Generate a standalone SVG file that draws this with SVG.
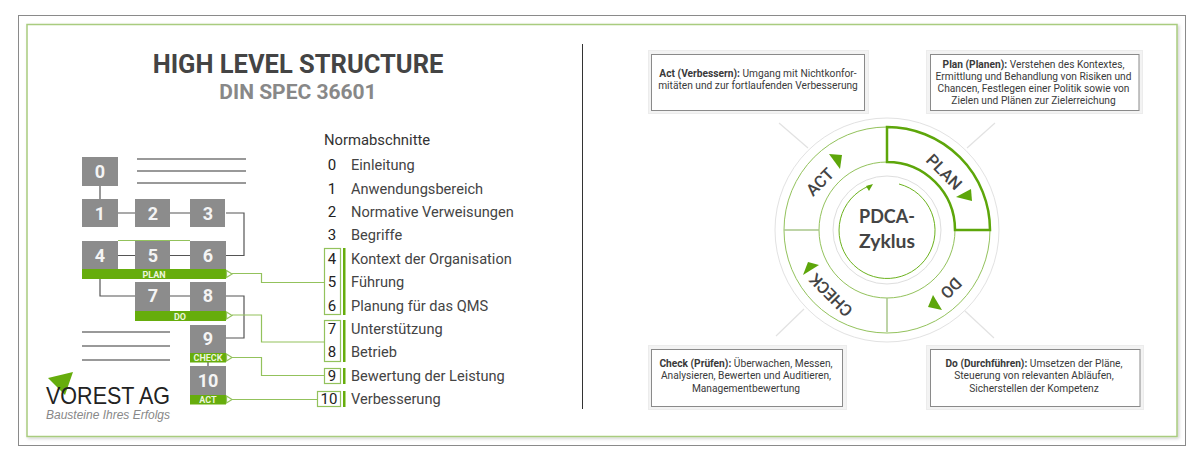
<svg xmlns="http://www.w3.org/2000/svg" width="1200" height="460" viewBox="0 0 1200 460">
<defs>
<filter id="sh" x="-2%" y="-2%" width="104%" height="104%"><feDropShadow dx="1.500" dy="1.500" stdDeviation="1.500" flood-color="#000" flood-opacity=".18"/></filter>
<style>
text{font-family:Roboto,"Liberation Sans",sans-serif}
.b{fill:#8c8c8c}
.n{fill:#f4f4f4;font-weight:700;font-size:18px;text-anchor:middle}
.bar{fill:#66ad0c}
.bl{fill:#ecf5dc;font-weight:700;font-size:9px;text-anchor:middle}
.rule{stroke:#999;stroke-width:2;fill:none}
.con{stroke:#555;stroke-width:1.2;fill:none}
.gc{stroke:#93c25c;stroke-width:1.2;fill:none}
.tri{fill:#fff;stroke:#93c25c;stroke-width:1.2}
.nb{fill:#fff;stroke:#93c25c;stroke-width:1.2}
.num{fill:#222;font-size:15px;text-anchor:middle}
.lab{fill:#444;font-size:14.600px}
.gb{fill:#66ad0c}
.card{fill:#fff;stroke:#8a8a8a;stroke-width:1}
.halo{fill:#f3f3f3;stroke:#ececec;stroke-width:1}
.ct{fill:#3a3a3a;font-size:10.200px;text-anchor:middle}
.ct tspan.h{font-weight:700}
.ray{stroke:#e2e2e2;stroke-width:1.200}
.cy{fill:#444;font-size:16.500px;font-weight:500;text-anchor:middle}
.cc{fill:#444;font-size:19.500px;font-weight:700;text-anchor:middle;font-family:Lato,"Liberation Sans",sans-serif}
.arw{fill:#5da60a}
.logo{font-family:"Liberation Sans",sans-serif}
</style>
</defs>
<rect width="1200" height="460" fill="#fff"/>
<rect x="18.500" y="15.500" width="1167" height="430" fill="#fff" stroke="#8a8a8a"/>
<rect x="27" y="24.500" width="1150" height="412" fill="#fff" stroke="#a9cc7f" stroke-width="1.500" filter="url(#sh)"/>
<line x1="582.500" y1="44" x2="582.500" y2="409" stroke="#333"/>

<g id="title">
<text x="298" y="73" text-anchor="middle" font-size="25.500" font-weight="700" fill="#444">HIGH LEVEL STRUCTURE</text>
<text x="298" y="99" text-anchor="middle" font-size="21" font-weight="700" fill="#888">DIN SPEC 36601</text>
</g>

<g id="connectors">
<path class="con" d="M100 186V199M118 213H135M170 213H190M226 213H244V255.500H226M118 255.500H135M170 255.500H190M100 279V296H135M170 296H190M226 296H244V338H226M208 362V366"/>
<path class="gc" d="M232 273.500H261.500V282.500H325M232 315H261.500V342H325M232 357.500H261.500V375.500H325M232 399.500H318"/>
</g>

<g id="rules">
<path class="rule" d="M137 159H246M137 171H246M137 183H246M82 332H170M82 346H170M82 360H170"/>
</g>

<g id="n0"><rect class="b" x="82" y="157" width="36" height="29"/><text class="n" x="100" y="178">0</text></g>
<g id="n1"><rect class="b" x="82" y="199" width="36" height="28"/><text class="n" x="100" y="220">1</text></g>
<g id="n2"><rect class="b" x="135" y="199" width="35" height="28"/><text class="n" x="153" y="220">2</text></g>
<g id="n3"><rect class="b" x="190" y="199" width="35" height="28"/><text class="n" x="208" y="220">3</text></g>
<g id="n4"><rect class="b" x="82" y="241" width="36" height="29"/><text class="n" x="100" y="262">4</text></g>
<g id="n5"><rect class="b" x="135" y="241" width="35" height="29"/><text class="n" x="153" y="262">5</text></g>
<g id="n6"><rect class="b" x="190" y="241" width="36" height="29"/><text class="n" x="208" y="262">6</text></g>
<path d="M118 240.500H190" stroke="#93c25c" fill="none"/>
<g id="plan"><rect class="bar" x="82" y="269" width="144" height="10"/><text class="bl" x="154" y="277.500">PLAN</text><path class="tri" d="M226.500 270.500L232 274L226.500 277.500Z"/></g>
<g id="n7"><rect class="b" x="135" y="282" width="35" height="29"/><text class="n" x="153" y="302">7</text></g>
<g id="n8"><rect class="b" x="190" y="282" width="36" height="29"/><text class="n" x="208" y="302">8</text></g>
<g id="do"><rect class="bar" x="135" y="311" width="91" height="10"/><text class="bl" x="180" y="319.500">DO</text><path class="tri" d="M226.500 312L232 315.500L226.500 319Z"/></g>
<g id="n9"><rect class="b" x="190" y="325" width="36" height="28"/><text class="n" x="208" y="345">9</text></g>
<g id="check"><rect class="bar" x="190" y="353" width="36" height="9.500"/><text class="bl" x="208" y="361">CHECK</text><path class="tri" d="M226.500 354L232 357.500L226.500 361Z"/></g>
<g id="n10"><rect class="b" x="190" y="366" width="36" height="29"/><text class="n" x="208" y="387">10</text></g>
<g id="act"><rect class="bar" x="190" y="395" width="36" height="9.500"/><text class="bl" x="208" y="403">ACT</text><path class="tri" d="M226.500 396L232 399.500L226.500 403Z"/></g>

<g id="logo">
<path d="M48 378L73 372L65 395Z" fill="#66ad0c"/>
<text class="logo" x="46" y="404" font-size="24" fill="#222" textLength="124" lengthAdjust="spacingAndGlyphs">VOREST AG</text>
<text class="logo" x="46" y="419" font-size="12.500" font-style="italic" fill="#888" textLength="124" lengthAdjust="spacingAndGlyphs">Bausteine Ihres Erfolgs</text>
</g>

<g id="normen">
<text x="324" y="145" font-size="14.800" fill="#333">Normabschnitte</text>
<rect class="nb" x="324.500" y="248.500" width="16" height="66"/>
<rect class="nb" x="324.500" y="320.500" width="16" height="41"/>
<rect class="nb" x="324.500" y="368.500" width="16" height="15"/>
<rect class="nb" x="317.500" y="391.500" width="23" height="15"/>
<rect class="gb" x="343" y="248" width="2.500" height="67"/>
<rect class="gb" x="343" y="320" width="2.500" height="42"/>
<rect class="gb" x="343" y="368" width="2.500" height="16"/>
<rect class="gb" x="343" y="391" width="2.500" height="16"/>
<g id="s0"><text class="num" x="332" y="170">0</text><text class="lab" x="351" y="170">Einleitung</text></g>
<g id="s1"><text class="num" x="332" y="194">1</text><text class="lab" x="351" y="194">Anwendungsbereich</text></g>
<g id="s2"><text class="num" x="332" y="217">2</text><text class="lab" x="351" y="217">Normative Verweisungen</text></g>
<g id="s3"><text class="num" x="332" y="240">3</text><text class="lab" x="351" y="240">Begriffe</text></g>
<g id="s4"><text class="num" x="332" y="264">4</text><text class="lab" x="351" y="264">Kontext der Organisation</text></g>
<g id="s5"><text class="num" x="332" y="287">5</text><text class="lab" x="351" y="287">Führung</text></g>
<g id="s6"><text class="num" x="332" y="311">6</text><text class="lab" x="351" y="311">Planung für das QMS</text></g>
<g id="s7"><text class="num" x="332" y="334">7</text><text class="lab" x="351" y="334">Unterstützung</text></g>
<g id="s8"><text class="num" x="332" y="357">8</text><text class="lab" x="351" y="357">Betrieb</text></g>
<g id="s9"><text class="num" x="332" y="381">9</text><text class="lab" x="351" y="381">Bewertung der Leistung</text></g>
<g id="s10"><text class="num" x="329" y="404">10</text><text class="lab" x="351" y="404">Verbesserung</text></g>
</g>

<g id="card-act">
<rect class="halo" x="648.500" y="50.500" width="220" height="63"/><rect class="card" x="651.500" y="54.500" width="213" height="56"/>
<text class="ct" x="758" y="77"><tspan class="h">Act (Verbessern):</tspan> Umgang mit Nichtkonfor-</text>
<text class="ct" x="758" y="89">mitäten und zur fortlaufenden Verbesserung</text>
</g>
<g id="card-plan">
<rect class="halo" x="926.500" y="50.500" width="216" height="63"/><rect class="card" x="930.500" y="54.500" width="208.500" height="56"/>
<text class="ct" x="1033.500" y="68"><tspan class="h">Plan (Planen):</tspan> Verstehen des Kontextes,</text>
<text class="ct" x="1033.500" y="80">Ermittlung und Behandlung von Risiken und</text>
<text class="ct" x="1033.500" y="92">Chancen, Festlegen einer Politik sowie von</text>
<text class="ct" x="1033.500" y="104">Zielen und Plänen zur Zielerreichung</text>
</g>
<g id="card-check">
<rect class="halo" x="648.500" y="345.500" width="198" height="64"/><rect class="card" x="651.500" y="349.500" width="191" height="57"/>
<text class="ct" x="746" y="367"><tspan class="h">Check (Prüfen):</tspan> Überwachen, Messen,</text>
<text class="ct" x="746" y="379">Analysieren, Bewerten und Auditieren,</text>
<text class="ct" x="746" y="392">Managementbewertung</text>
</g>
<g id="card-do">
<rect class="halo" x="926.500" y="345.500" width="217" height="64"/><rect class="card" x="930.500" y="349.500" width="209.500" height="57"/>
<text class="ct" x="1034" y="367"><tspan class="h">Do (Durchführen):</tspan> Umsetzen der Pläne,</text>
<text class="ct" x="1034" y="379">Steuerung von relevanten Abläufen,</text>
<text class="ct" x="1034" y="392">Sicherstellen der Kompetenz</text>
</g>

<g id="cycle">
<path class="ray" d="M779 123L808 148M995 123L967 148M776 336L804 309M994 338L965 311"/>
<circle cx="887" cy="230" r="112" fill="#fff" stroke="#e2e2e2" stroke-width="1"/>
<circle cx="887" cy="230" r="103" fill="#fff" stroke="#93c25c" stroke-width="1"/>
<circle cx="887" cy="230" r="68" fill="#fff" stroke="#93c25c" stroke-width="1"/>
<path d="M784 230H819M887 298V332" stroke="#a9c68a" stroke-width="1.500" fill="none"/>
<path d="M887 127A103 103 0 0 1 990 230H955A68 68 0 0 0 887 162Z" fill="#fff" stroke="#5da60a" stroke-width="2.500"/>
<circle cx="887" cy="230" r="54" fill="#fff" stroke="#dedede"/>
<path d="M899 184A48 48 0 1 1 869 186" fill="none" stroke="#6cb21e" stroke-width="1"/>
<path class="arw" d="M866 186L873 184L869 191Z"/>
<path class="arw" d="M829 154L842 155L840 169Z"/>
<path class="arw" d="M956 197L971 189L972 201Z"/>
<path class="arw" d="M928 307L933 295L942 310Z"/>
<path class="arw" d="M803 275L808 262L819 265Z"/>
<text class="cy" transform="translate(824 186) rotate(-45)">ACT</text>
<text class="cy" transform="translate(940 176) rotate(45)">PLAN</text>
<text class="cy" transform="translate(947 284) rotate(135)">DO</text>
<text class="cy" transform="translate(835 291) rotate(-135)">CHECK</text>
<text class="cc" x="887" y="223" textLength="56" lengthAdjust="spacingAndGlyphs">PDCA-</text>
<text class="cc" x="887" y="248" textLength="56" lengthAdjust="spacingAndGlyphs">Zyklus</text>
</g>
</svg>
